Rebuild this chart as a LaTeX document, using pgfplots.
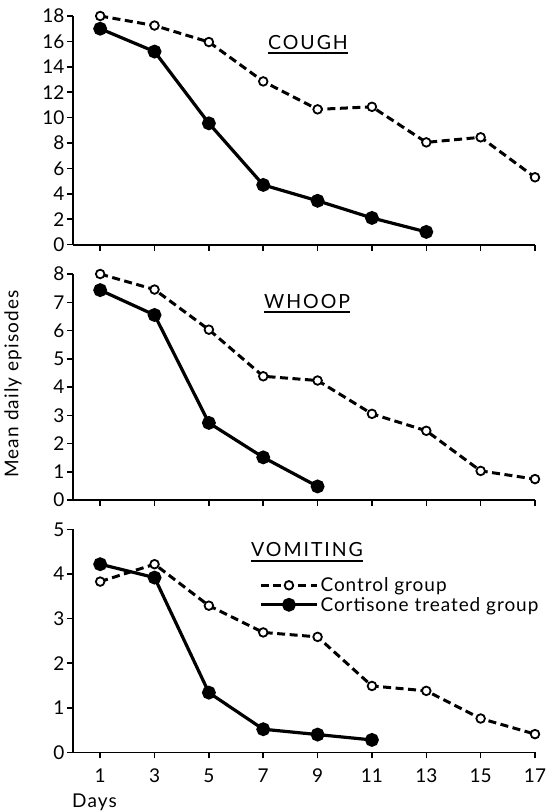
\documentclass[border=0pt]{standalone}
\usepackage{fontspec}
\setmainfont{Lato}
\usepackage{pgfplots}
\pgfplotsset{compat=1.18}
\begin{document}
\begin{tikzpicture}
\useasboundingbox (0pt,0pt) rectangle (546pt,-812pt);
\pgfplotsset{
 panel/.style={
  width=462pt, scale only axis, xmin=0, xmax=17, ymin=0,
  axis lines=left, axis line style={-, line width=1.8pt},
  tick align=outside, major tick length=6pt, tick style={line width=1.5pt, black},
  xtick={1,3,...,17}, clip=false,
  /pgf/number format/assume math mode=true,
  ticklabel style={font=\fontsize{19}{22}\selectfont},
  yticklabel style={xshift=1pt},
  xticklabel style={yshift=-7pt},
 },
 ctrl/.style={black, line width=3pt, dash pattern=on 8pt off 4.5pt, mark=*, mark size=4.3pt,
   mark options={solid, fill=white, line width=1.8pt}},
 cort/.style={black, line width=3.2pt, mark=*, mark size=5.3pt, mark options={solid}},
}
% COUGH
\begin{axis}[panel, at={(73pt,-244.6pt)}, anchor=south west, height=228.6pt, ymax=18,
  ytick={0,2,...,18}, xticklabels={}]
\addplot[ctrl] coordinates {(1,18.0) (3,17.25) (5,15.95) (7,12.85) (9,10.65) (11,10.85) (13,8.05) (15,8.45) (17,5.3)};
\addplot[cort] coordinates {(1,17.0) (3,15.2) (5,9.55) (7,4.7) (9,3.45) (11,2.1) (13,1.0)};
\end{axis}
% WHOOP
\begin{axis}[panel, at={(73pt,-500pt)}, anchor=south west, height=226pt, ymax=8,
  ytick={0,1,...,8}, xticklabels={}]
\addplot[ctrl] coordinates {(1,8.0) (3,7.45) (5,6.03) (7,4.38) (9,4.23) (11,3.05) (13,2.45) (15,1.03) (17,0.74)};
\addplot[cort] coordinates {(1,7.43) (3,6.55) (5,2.73) (7,1.51) (9,0.48)};
\end{axis}
% VOMITING
\begin{axis}[panel, at={(73pt,-752.4pt)}, anchor=south west, height=223pt, ymax=5,
  ytick={0,1,...,5},
  legend style={at={(axis cs:6.85,3.97)}, anchor=north west, draw=none, fill=none,
    inner sep=0pt, font=\fontsize{19}{22}\selectfont\addfontfeature{LetterSpace=5}, row sep=0pt},
  legend cell align=left,
  legend image code/.code={\draw[mark repeat=2,mark phase=2,#1] plot coordinates {(0pt,0pt) (28pt,0pt) (56pt,0pt)};}]
\addplot[ctrl] coordinates {(1,3.83) (3,4.22) (5,3.29) (7,2.69) (9,2.59) (11,1.49) (13,1.38) (15,0.76) (17,0.41)};
\addplot[cort] coordinates {(1,4.22) (3,3.92) (5,1.34) (7,0.52) (9,0.40) (11,0.28)};
\legend{Control group, Cortisone treated group}
\end{axis}
% titles
\tikzset{ttl/.style={anchor=base west, inner sep=0pt, font=\fontsize{19.5}{22}\selectfont\addfontfeature{LetterSpace=10}}}
\node[ttl] (t1) at (268pt,-49.3pt) {COUGH};
\draw[line width=2pt] ([yshift=-3.5pt]t1.base west) -- ([yshift=-3.5pt]t1.base east);
\node[ttl] (t2) at (264pt,-308pt) {WHOOP};
\draw[line width=2pt] ([yshift=-3.5pt]t2.base west) -- ([yshift=-3.5pt]t2.base east);
\node[ttl] (t3) at (251pt,-556.7pt) {VOMITING};
\draw[line width=2pt] ([yshift=-4pt]t3.base west) -- ([yshift=-4pt]t3.base east);
\node[rotate=90, font=\fontsize{19}{22}\selectfont\addfontfeature{LetterSpace=6}] at (13pt,-384pt) {Mean daily episodes};
\node[anchor=base west, inner sep=0pt, font=\fontsize{19}{22}\selectfont\addfontfeature{LetterSpace=6}] at (72pt,-807pt) {Days};
\end{tikzpicture}
\end{document}
